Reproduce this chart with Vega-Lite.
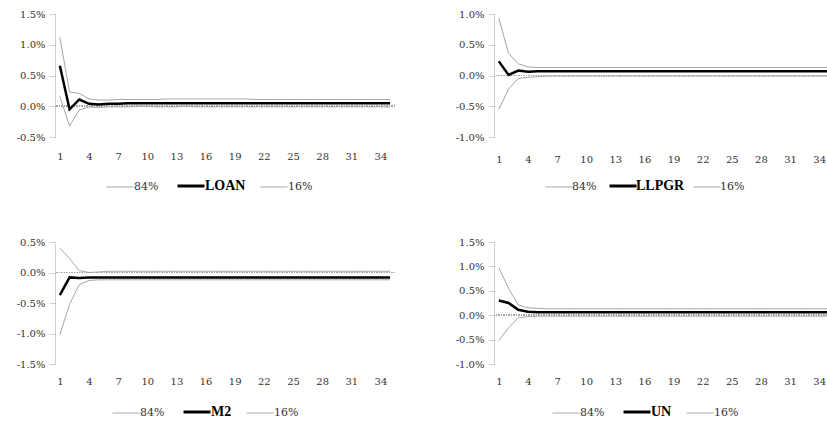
{
  "$schema": "https://vega.github.io/schema/vega-lite/v6.json",
  "background": "white",
  "padding": {"left": 16, "top": 9, "right": 0, "bottom": 0},
  "config": {"view": {"stroke": null}, "font": "DejaVu Serif", "axis": {"labelOverlap": false, "labelSeparation": 0}},
  "datasets": {
    "loan": [
      {"p":1,"84%":1.12,"LOAN":0.66,"16%":0.16},{"p":2,"84%":0.23,"LOAN":-0.05,"16%":-0.32},{"p":3,"84%":0.21,"LOAN":0.11,"16%":-0.06},{"p":4,"84%":0.12,"LOAN":0.04,"16%":-0.01},{"p":5,"84%":0.10,"LOAN":0.03,"16%":-0.02},
      {"p":6,"84%":0.10,"LOAN":0.04,"16%":-0.01},{"p":7,"84%":0.11,"LOAN":0.04,"16%":-0.01},{"p":8,"84%":0.11,"LOAN":0.05,"16%":-0.01},{"p":9,"84%":0.11,"LOAN":0.05,"16%":0.00},{"p":10,"84%":0.11,"LOAN":0.05,"16%":0.00},
      {"p":11,"84%":0.11,"LOAN":0.05,"16%":-0.01},{"p":12,"84%":0.12,"LOAN":0.05,"16%":-0.01},{"p":13,"84%":0.12,"LOAN":0.05,"16%":-0.01},{"p":14,"84%":0.12,"LOAN":0.05,"16%":0.00},{"p":15,"84%":0.12,"LOAN":0.05,"16%":-0.01},
      {"p":16,"84%":0.12,"LOAN":0.05,"16%":-0.01},{"p":17,"84%":0.12,"LOAN":0.05,"16%":-0.01},{"p":18,"84%":0.12,"LOAN":0.05,"16%":-0.01},{"p":19,"84%":0.12,"LOAN":0.05,"16%":-0.01},{"p":20,"84%":0.12,"LOAN":0.05,"16%":-0.01},
      {"p":21,"84%":0.11,"LOAN":0.05,"16%":-0.01},{"p":22,"84%":0.11,"LOAN":0.05,"16%":-0.01},{"p":23,"84%":0.11,"LOAN":0.05,"16%":-0.01},{"p":24,"84%":0.11,"LOAN":0.05,"16%":-0.01},{"p":25,"84%":0.11,"LOAN":0.05,"16%":-0.01},
      {"p":26,"84%":0.11,"LOAN":0.05,"16%":-0.01},{"p":27,"84%":0.11,"LOAN":0.05,"16%":-0.01},{"p":28,"84%":0.11,"LOAN":0.05,"16%":-0.01},{"p":29,"84%":0.11,"LOAN":0.05,"16%":-0.01},{"p":30,"84%":0.11,"LOAN":0.05,"16%":-0.01},
      {"p":31,"84%":0.11,"LOAN":0.05,"16%":-0.01},{"p":32,"84%":0.11,"LOAN":0.05,"16%":-0.01},{"p":33,"84%":0.11,"LOAN":0.05,"16%":-0.01},{"p":34,"84%":0.11,"LOAN":0.05,"16%":-0.01},{"p":35,"84%":0.11,"LOAN":0.05,"16%":-0.01}
    ],
    "llpgr": [
      {"p":1,"84%":0.93,"LLPGR":0.23,"16%":-0.55},{"p":2,"84%":0.36,"LLPGR":0.01,"16%":-0.22},{"p":3,"84%":0.19,"LLPGR":0.08,"16%":-0.05},{"p":4,"84%":0.14,"LLPGR":0.06,"16%":-0.03},{"p":5,"84%":0.13,"LLPGR":0.07,"16%":-0.02},
      {"p":6,"84%":0.13,"LLPGR":0.07,"16%":-0.01},{"p":7,"84%":0.13,"LLPGR":0.07,"16%":-0.01},{"p":8,"84%":0.13,"LLPGR":0.07,"16%":-0.01},{"p":9,"84%":0.13,"LLPGR":0.07,"16%":-0.01},{"p":10,"84%":0.13,"LLPGR":0.07,"16%":-0.01},
      {"p":11,"84%":0.13,"LLPGR":0.07,"16%":-0.01},{"p":12,"84%":0.13,"LLPGR":0.07,"16%":-0.01},{"p":13,"84%":0.13,"LLPGR":0.07,"16%":-0.01},{"p":14,"84%":0.13,"LLPGR":0.07,"16%":-0.01},{"p":15,"84%":0.13,"LLPGR":0.07,"16%":-0.01},
      {"p":16,"84%":0.13,"LLPGR":0.07,"16%":-0.01},{"p":17,"84%":0.13,"LLPGR":0.07,"16%":-0.01},{"p":18,"84%":0.13,"LLPGR":0.07,"16%":-0.01},{"p":19,"84%":0.13,"LLPGR":0.07,"16%":-0.01},{"p":20,"84%":0.13,"LLPGR":0.07,"16%":-0.01},
      {"p":21,"84%":0.13,"LLPGR":0.07,"16%":-0.01},{"p":22,"84%":0.13,"LLPGR":0.07,"16%":-0.01},{"p":23,"84%":0.13,"LLPGR":0.07,"16%":-0.01},{"p":24,"84%":0.13,"LLPGR":0.07,"16%":-0.01},{"p":25,"84%":0.13,"LLPGR":0.07,"16%":-0.01},
      {"p":26,"84%":0.13,"LLPGR":0.07,"16%":-0.01},{"p":27,"84%":0.13,"LLPGR":0.07,"16%":-0.01},{"p":28,"84%":0.13,"LLPGR":0.07,"16%":-0.01},{"p":29,"84%":0.13,"LLPGR":0.07,"16%":-0.01},{"p":30,"84%":0.13,"LLPGR":0.07,"16%":-0.01},
      {"p":31,"84%":0.13,"LLPGR":0.07,"16%":-0.01},{"p":32,"84%":0.13,"LLPGR":0.07,"16%":-0.01},{"p":33,"84%":0.13,"LLPGR":0.07,"16%":-0.01},{"p":34,"84%":0.13,"LLPGR":0.07,"16%":-0.01},{"p":35,"84%":0.13,"LLPGR":0.07,"16%":-0.01}
    ],
    "m2": [
      {"p":1,"84%":0.40,"M2":-0.37,"16%":-1.02},{"p":2,"84%":0.23,"M2":-0.08,"16%":-0.52},{"p":3,"84%":0.03,"M2":-0.09,"16%":-0.20},{"p":4,"84%":0.00,"M2":-0.08,"16%":-0.13},{"p":5,"84%":0.01,"M2":-0.08,"16%":-0.12},
      {"p":6,"84%":0.02,"M2":-0.08,"16%":-0.12},{"p":7,"84%":0.02,"M2":-0.08,"16%":-0.12},{"p":8,"84%":0.02,"M2":-0.08,"16%":-0.12},{"p":9,"84%":0.02,"M2":-0.08,"16%":-0.12},{"p":10,"84%":0.02,"M2":-0.08,"16%":-0.12},
      {"p":11,"84%":0.02,"M2":-0.08,"16%":-0.12},{"p":12,"84%":0.02,"M2":-0.08,"16%":-0.12},{"p":13,"84%":0.02,"M2":-0.08,"16%":-0.12},{"p":14,"84%":0.02,"M2":-0.08,"16%":-0.12},{"p":15,"84%":0.02,"M2":-0.08,"16%":-0.12},
      {"p":16,"84%":0.02,"M2":-0.08,"16%":-0.12},{"p":17,"84%":0.02,"M2":-0.08,"16%":-0.12},{"p":18,"84%":0.02,"M2":-0.08,"16%":-0.12},{"p":19,"84%":0.02,"M2":-0.08,"16%":-0.12},{"p":20,"84%":0.02,"M2":-0.08,"16%":-0.12},
      {"p":21,"84%":0.02,"M2":-0.08,"16%":-0.12},{"p":22,"84%":0.02,"M2":-0.08,"16%":-0.12},{"p":23,"84%":0.02,"M2":-0.08,"16%":-0.12},{"p":24,"84%":0.02,"M2":-0.08,"16%":-0.12},{"p":25,"84%":0.02,"M2":-0.08,"16%":-0.12},
      {"p":26,"84%":0.02,"M2":-0.08,"16%":-0.12},{"p":27,"84%":0.02,"M2":-0.08,"16%":-0.12},{"p":28,"84%":0.02,"M2":-0.08,"16%":-0.12},{"p":29,"84%":0.02,"M2":-0.08,"16%":-0.12},{"p":30,"84%":0.02,"M2":-0.08,"16%":-0.12},
      {"p":31,"84%":0.02,"M2":-0.08,"16%":-0.12},{"p":32,"84%":0.02,"M2":-0.08,"16%":-0.12},{"p":33,"84%":0.02,"M2":-0.08,"16%":-0.12},{"p":34,"84%":0.02,"M2":-0.08,"16%":-0.12},{"p":35,"84%":0.02,"M2":-0.08,"16%":-0.12}
    ],
    "un": [
      {"p":1,"84%":0.97,"UN":0.30,"16%":-0.52},{"p":2,"84%":0.55,"UN":0.25,"16%":-0.26},{"p":3,"84%":0.21,"UN":0.11,"16%":-0.05},{"p":4,"84%":0.15,"UN":0.07,"16%":-0.03},{"p":5,"84%":0.14,"UN":0.06,"16%":-0.02},
      {"p":6,"84%":0.13,"UN":0.06,"16%":-0.02},{"p":7,"84%":0.13,"UN":0.06,"16%":-0.02},{"p":8,"84%":0.13,"UN":0.06,"16%":-0.02},{"p":9,"84%":0.13,"UN":0.06,"16%":-0.02},{"p":10,"84%":0.13,"UN":0.06,"16%":-0.02},
      {"p":11,"84%":0.13,"UN":0.06,"16%":-0.02},{"p":12,"84%":0.13,"UN":0.06,"16%":-0.02},{"p":13,"84%":0.13,"UN":0.06,"16%":-0.02},{"p":14,"84%":0.13,"UN":0.06,"16%":-0.02},{"p":15,"84%":0.13,"UN":0.06,"16%":-0.02},
      {"p":16,"84%":0.13,"UN":0.06,"16%":-0.02},{"p":17,"84%":0.13,"UN":0.06,"16%":-0.02},{"p":18,"84%":0.13,"UN":0.06,"16%":-0.02},{"p":19,"84%":0.13,"UN":0.06,"16%":-0.02},{"p":20,"84%":0.13,"UN":0.06,"16%":-0.02},
      {"p":21,"84%":0.13,"UN":0.06,"16%":-0.02},{"p":22,"84%":0.13,"UN":0.06,"16%":-0.02},{"p":23,"84%":0.13,"UN":0.06,"16%":-0.02},{"p":24,"84%":0.13,"UN":0.06,"16%":-0.02},{"p":25,"84%":0.13,"UN":0.06,"16%":-0.02},
      {"p":26,"84%":0.13,"UN":0.06,"16%":-0.02},{"p":27,"84%":0.13,"UN":0.06,"16%":-0.02},{"p":28,"84%":0.13,"UN":0.06,"16%":-0.02},{"p":29,"84%":0.13,"UN":0.06,"16%":-0.02},{"p":30,"84%":0.13,"UN":0.06,"16%":-0.02},
      {"p":31,"84%":0.13,"UN":0.06,"16%":-0.02},{"p":32,"84%":0.13,"UN":0.06,"16%":-0.02},{"p":33,"84%":0.13,"UN":0.06,"16%":-0.02},{"p":34,"84%":0.13,"UN":0.06,"16%":-0.02},{"p":35,"84%":0.13,"UN":0.06,"16%":-0.02}
    ]
  },
  "spacing": 228,
  "bounds": "flush",
  "resolve": {"scale": {"x": "independent", "y": "independent", "color": "independent"}, "axis": {"x": "independent", "y": "independent"}, "legend": {"color": "independent"}},
  "vconcat": [
    {
      "spacing": 99,
      "bounds": "flush",
      "resolve": {"scale": {"x": "independent", "y": "independent", "color": "independent"}, "axis": {"x": "independent", "y": "independent"}, "legend": {"color": "independent"}},
      "hconcat": [
        {
          "width": 340, "height": 123,
          "data": {"name": "loan"},
          "transform": [{"fold": ["84%", "LOAN", "16%"], "as": ["s", "v"]}],
          "layer": [
            {"mark": {"type": "rule", "color": "#a6a6a6", "strokeDash": [1, 1.5], "strokeWidth": 1},
             "encoding": {"y": {"datum": 0, "type": "quantitative", "scale": {"domain": [-0.5, 1.5], "nice": false, "zero": false},
                                "axis": {"values": [-0.5, 0, 0.5, 1, 1.5], "grid": false, "domainColor": "#a0a0a0", "domainDash": [1, 1], "tickColor": "#a0a0a0", "tickDash": [1, 1], "tickSize": 5, "labelPadding": 5, "labelExpr": "replace(format(datum.value, '.1f'), '−', '-') + '%'", "title": null, "labelFont": "DejaVu Serif", "labelFontSize": 10, "labelColor": "#333333", "labelOverlap": false, "labelFlush": false}}}},
            {"mark": {"type": "line", "clip": true},
             "encoding": {
               "x": {"field": "p", "type": "quantitative", "scale": {"domain": [0.5, 35.5], "nice": false, "zero": false},
                     "axis": {"values": [1,4,7,10,13,16,19,22,25,28,31,34], "domain": false, "ticks": false, "grid": false, "labelPadding": 14, "labelFont": "DejaVu Serif", "labelFontSize": 10, "labelColor": "#333333", "title": null, "labelFlush": false, "labelOverlap": false}},
               "y": {"field": "v", "type": "quantitative", "scale": {"domain": [-0.5, 1.5], "nice": false, "zero": false},
                     "axis": {"values": [-0.5, 0, 0.5, 1, 1.5], "grid": false, "domainColor": "#a0a0a0", "domainDash": [1, 1], "tickColor": "#a0a0a0", "tickDash": [1, 1], "tickSize": 5, "labelPadding": 5, "labelExpr": "replace(format(datum.value, '.1f'), '−', '-') + '%'", "title": null, "labelFont": "DejaVu Serif", "labelFontSize": 10, "labelColor": "#333333", "labelOverlap": false, "labelFlush": false}},
               "color": {"field": "s", "type": "nominal", "scale": {"domain": ["84%", "LOAN", "16%"], "range": ["#a6a6a6", "#000000", "#a6a6a6"]},
                         "legend": {"orient": "none", "legendX": 58, "legendY": 165, "direction": "horizontal", "title": null, "symbolType": "stroke", "symbolSize": 729, "symbolStrokeWidth": 1, "labelFont": "DejaVu Serif", "labelFontSize": 12, "labelColor": "#333333", "columnPadding": 12, "labelOffset": 7,
                                    "encode": {"labels": {"update": {"fontWeight": {"signal": "datum.label == '84%' || datum.label == '16%' ? 'normal' : 'bold'"}, "font": {"signal": "datum.label == '84%' || datum.label == '16%' ? 'DejaVu Serif' : 'Liberation Serif'"}, "fontSize": {"signal": "datum.label == '84%' || datum.label == '16%' ? 11 : 14"}, "fill": {"signal": "datum.label == '84%' || datum.label == '16%' ? '#333333' : '#000000'"}}},
                                               "symbols": {"update": {"strokeWidth": {"signal": "datum.label == '84%' || datum.label == '16%' ? 1 : 3"}}}}}},
               "strokeWidth": {"condition": {"test": "datum.s != '84%' && datum.s != '16%'", "value": 2.5}, "value": 1}
             }}
          ]
        },
        {
          "width": 333, "height": 123,
          "data": {"name": "llpgr"},
          "transform": [{"fold": ["84%", "LLPGR", "16%"], "as": ["s", "v"]}],
          "layer": [
            {"mark": {"type": "rule", "color": "#a6a6a6", "strokeDash": [1, 1.5], "strokeWidth": 1},
             "encoding": {"y": {"datum": 0, "type": "quantitative", "scale": {"domain": [-1, 1], "nice": false, "zero": false},
                                "axis": {"values": [-1, -0.5, 0, 0.5, 1], "grid": false, "domainColor": "#a0a0a0", "domainDash": [1, 1], "tickColor": "#a0a0a0", "tickDash": [1, 1], "tickSize": 5, "labelPadding": 5, "labelExpr": "replace(format(datum.value, '.1f'), '−', '-') + '%'", "title": null, "labelFont": "DejaVu Serif", "labelFontSize": 10, "labelColor": "#333333", "labelOverlap": false, "labelFlush": false}}}},
            {"mark": {"type": "line", "clip": true},
             "encoding": {
               "x": {"field": "p", "type": "quantitative", "scale": {"domain": [0.5, 34.8], "nice": false, "zero": false},
                     "axis": {"values": [1,4,7,10,13,16,19,22,25,28,31,34], "domain": false, "ticks": false, "grid": false, "labelPadding": 17, "labelFont": "DejaVu Serif", "labelFontSize": 10, "labelColor": "#333333", "title": null, "labelFlush": false, "labelOverlap": false}},
               "y": {"field": "v", "type": "quantitative", "scale": {"domain": [-1, 1], "nice": false, "zero": false},
                     "axis": {"values": [-1, -0.5, 0, 0.5, 1], "grid": false, "domainColor": "#a0a0a0", "domainDash": [1, 1], "tickColor": "#a0a0a0", "tickDash": [1, 1], "tickSize": 5, "labelPadding": 5, "labelExpr": "replace(format(datum.value, '.1f'), '−', '-') + '%'", "title": null, "labelFont": "DejaVu Serif", "labelFontSize": 10, "labelColor": "#333333", "labelOverlap": false, "labelFlush": false}},
               "color": {"field": "s", "type": "nominal", "scale": {"domain": ["84%", "LLPGR", "16%"], "range": ["#a6a6a6", "#000000", "#a6a6a6"]},
                         "legend": {"orient": "none", "legendX": 58, "legendY": 165, "direction": "horizontal", "title": null, "symbolType": "stroke", "symbolSize": 729, "symbolStrokeWidth": 1, "labelFont": "DejaVu Serif", "labelFontSize": 12, "labelColor": "#333333", "columnPadding": 6, "labelOffset": 6,
                                    "encode": {"labels": {"update": {"fontWeight": {"signal": "datum.label == '84%' || datum.label == '16%' ? 'normal' : 'bold'"}, "font": {"signal": "datum.label == '84%' || datum.label == '16%' ? 'DejaVu Serif' : 'Liberation Serif'"}, "fontSize": {"signal": "datum.label == '84%' || datum.label == '16%' ? 11 : 14"}, "fill": {"signal": "datum.label == '84%' || datum.label == '16%' ? '#333333' : '#000000'"}}},
                                               "symbols": {"update": {"strokeWidth": {"signal": "datum.label == '84%' || datum.label == '16%' ? 1 : 3"}}}}}},
               "strokeWidth": {"condition": {"test": "datum.s != '84%' && datum.s != '16%'", "value": 2.5}, "value": 1}
             }}
          ]
        }
      ]
    },
    {
      "spacing": 99,
      "bounds": "flush",
      "resolve": {"scale": {"x": "independent", "y": "independent", "color": "independent"}, "axis": {"x": "independent", "y": "independent"}, "legend": {"color": "independent"}},
      "hconcat": [
        {
          "width": 340, "height": 122,
          "data": {"name": "m2"},
          "transform": [{"fold": ["84%", "M2", "16%"], "as": ["s", "v"]}],
          "layer": [
            {"mark": {"type": "rule", "color": "#a6a6a6", "strokeDash": [1, 1.5], "strokeWidth": 1},
             "encoding": {"y": {"datum": 0, "type": "quantitative", "scale": {"domain": [-1.5, 0.5], "nice": false, "zero": false},
                                "axis": {"values": [-1.5, -1, -0.5, 0, 0.5], "grid": false, "domainColor": "#a0a0a0", "domainDash": [1, 1], "tickColor": "#a0a0a0", "tickDash": [1, 1], "tickSize": 5, "labelPadding": 5, "labelExpr": "replace(format(datum.value, '.1f'), '−', '-') + '%'", "title": null, "labelFont": "DejaVu Serif", "labelFontSize": 10, "labelColor": "#333333", "labelOverlap": false, "labelFlush": false}}}},
            {"mark": {"type": "line", "clip": true},
             "encoding": {
               "x": {"field": "p", "type": "quantitative", "scale": {"domain": [0.5, 35.5], "nice": false, "zero": false},
                     "axis": {"values": [1,4,7,10,13,16,19,22,25,28,31,34], "domain": false, "ticks": false, "grid": false, "labelPadding": 12, "labelFont": "DejaVu Serif", "labelFontSize": 10, "labelColor": "#333333", "title": null, "labelFlush": false, "labelOverlap": false}},
               "y": {"field": "v", "type": "quantitative", "scale": {"domain": [-1.5, 0.5], "nice": false, "zero": false},
                     "axis": {"values": [-1.5, -1, -0.5, 0, 0.5], "grid": false, "domainColor": "#a0a0a0", "domainDash": [1, 1], "tickColor": "#a0a0a0", "tickDash": [1, 1], "tickSize": 5, "labelPadding": 5, "labelExpr": "replace(format(datum.value, '.1f'), '−', '-') + '%'", "title": null, "labelFont": "DejaVu Serif", "labelFontSize": 10, "labelColor": "#333333", "labelOverlap": false, "labelFlush": false}},
               "color": {"field": "s", "type": "nominal", "scale": {"domain": ["84%", "M2", "16%"], "range": ["#a6a6a6", "#000000", "#a6a6a6"]},
                         "legend": {"orient": "none", "legendX": 64, "legendY": 163, "direction": "horizontal", "title": null, "symbolType": "stroke", "symbolSize": 729, "symbolStrokeWidth": 1, "labelFont": "DejaVu Serif", "labelFontSize": 12, "labelColor": "#333333", "columnPadding": 12, "labelOffset": 7,
                                    "encode": {"labels": {"update": {"fontWeight": {"signal": "datum.label == '84%' || datum.label == '16%' ? 'normal' : 'bold'"}, "font": {"signal": "datum.label == '84%' || datum.label == '16%' ? 'DejaVu Serif' : 'Liberation Serif'"}, "fontSize": {"signal": "datum.label == '84%' || datum.label == '16%' ? 11 : 14"}, "fill": {"signal": "datum.label == '84%' || datum.label == '16%' ? '#333333' : '#000000'"}}},
                                               "symbols": {"update": {"strokeWidth": {"signal": "datum.label == '84%' || datum.label == '16%' ? 1 : 3"}}}}}},
               "strokeWidth": {"condition": {"test": "datum.s != '84%' && datum.s != '16%'", "value": 2.5}, "value": 1}
             }}
          ]
        },
        {
          "width": 333, "height": 122,
          "data": {"name": "un"},
          "transform": [{"fold": ["84%", "UN", "16%"], "as": ["s", "v"]}],
          "layer": [
            {"mark": {"type": "rule", "color": "#a6a6a6", "strokeDash": [1, 1.5], "strokeWidth": 1},
             "encoding": {"y": {"datum": 0, "type": "quantitative", "scale": {"domain": [-1, 1.5], "nice": false, "zero": false},
                                "axis": {"values": [-1, -0.5, 0, 0.5, 1, 1.5], "grid": false, "domainColor": "#a0a0a0", "domainDash": [1, 1], "tickColor": "#a0a0a0", "tickDash": [1, 1], "tickSize": 5, "labelPadding": 5, "labelExpr": "replace(format(datum.value, '.1f'), '−', '-') + '%'", "title": null, "labelFont": "DejaVu Serif", "labelFontSize": 10, "labelColor": "#333333", "labelOverlap": false, "labelFlush": false}}}},
            {"mark": {"type": "line", "clip": true},
             "encoding": {
               "x": {"field": "p", "type": "quantitative", "scale": {"domain": [0.5, 34.8], "nice": false, "zero": false},
                     "axis": {"values": [1,4,7,10,13,16,19,22,25,28,31,34], "domain": false, "ticks": false, "grid": false, "labelPadding": 12, "labelFont": "DejaVu Serif", "labelFontSize": 10, "labelColor": "#333333", "title": null, "labelFlush": false, "labelOverlap": false}},
               "y": {"field": "v", "type": "quantitative", "scale": {"domain": [-1, 1.5], "nice": false, "zero": false},
                     "axis": {"values": [-1, -0.5, 0, 0.5, 1, 1.5], "grid": false, "domainColor": "#a0a0a0", "domainDash": [1, 1], "tickColor": "#a0a0a0", "tickDash": [1, 1], "tickSize": 5, "labelPadding": 5, "labelExpr": "replace(format(datum.value, '.1f'), '−', '-') + '%'", "title": null, "labelFont": "DejaVu Serif", "labelFontSize": 10, "labelColor": "#333333", "labelOverlap": false, "labelFlush": false}},
               "color": {"field": "s", "type": "nominal", "scale": {"domain": ["84%", "UN", "16%"], "range": ["#a6a6a6", "#000000", "#a6a6a6"]},
                         "legend": {"orient": "none", "legendX": 65, "legendY": 163, "direction": "horizontal", "title": null, "symbolType": "stroke", "symbolSize": 729, "symbolStrokeWidth": 1, "labelFont": "DejaVu Serif", "labelFontSize": 12, "labelColor": "#333333", "columnPadding": 12, "labelOffset": 7,
                                    "encode": {"labels": {"update": {"fontWeight": {"signal": "datum.label == '84%' || datum.label == '16%' ? 'normal' : 'bold'"}, "font": {"signal": "datum.label == '84%' || datum.label == '16%' ? 'DejaVu Serif' : 'Liberation Serif'"}, "fontSize": {"signal": "datum.label == '84%' || datum.label == '16%' ? 11 : 14"}, "fill": {"signal": "datum.label == '84%' || datum.label == '16%' ? '#333333' : '#000000'"}}},
                                               "symbols": {"update": {"strokeWidth": {"signal": "datum.label == '84%' || datum.label == '16%' ? 1 : 3"}}}}}},
               "strokeWidth": {"condition": {"test": "datum.s != '84%' && datum.s != '16%'", "value": 2.5}, "value": 1}
             }}
          ]
        }
      ]
    }
  ]
}
